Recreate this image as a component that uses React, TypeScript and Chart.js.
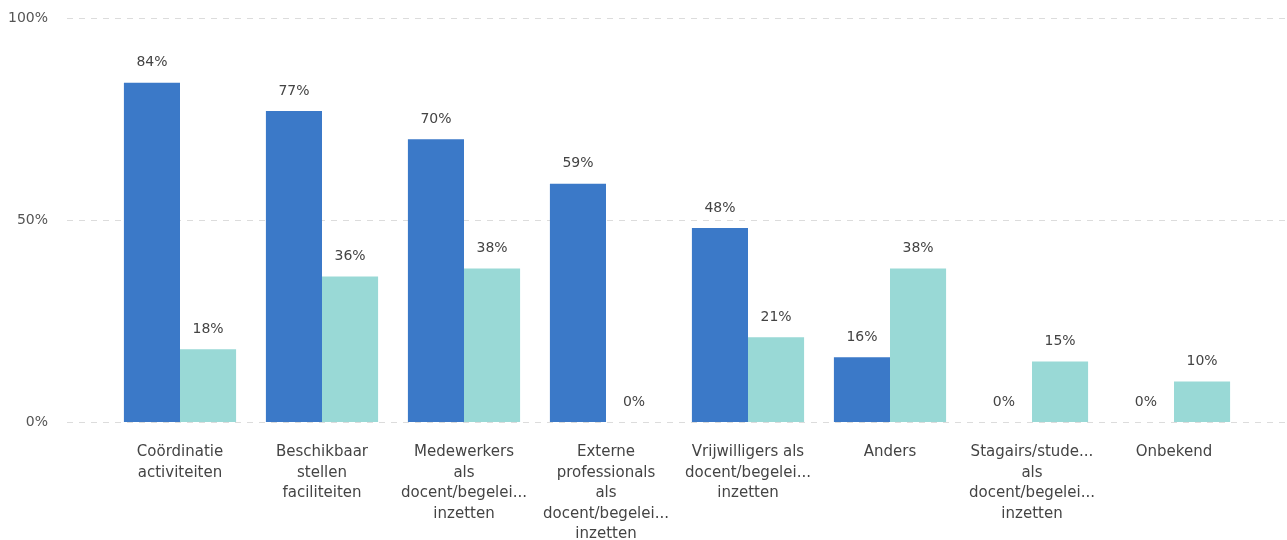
import React, { useEffect, useRef } from "react";
import { Chart, registerables } from "chart.js";

Chart.register(...registerables);

const categories: string[][] = [
  ["Coördinatie", "activiteiten"],
  ["Beschikbaar", "stellen", "faciliteiten"],
  ["Medewerkers", "als", "docent/begelei...", "inzetten"],
  ["Externe", "professionals", "als", "docent/begelei...", "inzetten"],
  ["Vrijwilligers als", "docent/begelei...", "inzetten"],
  ["Anders"],
  ["Stagairs/stude...", "als", "docent/begelei...", "inzetten"],
  ["Onbekend"],
];
const seriesA: number[] = [84, 77, 70, 59, 48, 16, 0, 0];
const seriesB: number[] = [18, 36, 38, 0, 21, 38, 15, 10];
const yTicks: number[] = [0, 50, 100];

const FONT = "'DejaVu Sans', sans-serif";
const DARK = "#3B79C8";
const LIGHT = "#99D9D6";

const gridPlugin = {
  id: "fullGrid",
  beforeDatasetsDraw(chart: any) {
    const { ctx } = chart;
    const y = chart.scales.y;
    ctx.save();
    ctx.strokeStyle = "#DCDCDC";
    ctx.lineWidth = 1;
    ctx.setLineDash([6, 6]);
    yTicks.forEach((t) => {
      const py = Math.round(y.getPixelForValue(t)) + 0.5;
      ctx.beginPath();
      ctx.moveTo(67, py);
      ctx.lineTo(chart.width, py);
      ctx.stroke();
    });
    ctx.setLineDash([]);
    ctx.font = `14px ${FONT}`;
    ctx.fillStyle = "#555555";
    ctx.textAlign = "right";
    ctx.textBaseline = "middle";
    yTicks.forEach((t) => {
      ctx.fillText(`${t}%`, 48, y.getPixelForValue(t));
    });
    ctx.restore();
  },
};

const labelPlugin = {
  id: "valueLabels",
  afterDatasetsDraw(chart: any) {
    const { ctx } = chart;
    ctx.save();
    ctx.font = `14px ${FONT}`;
    ctx.fillStyle = "#444444";
    ctx.textAlign = "center";
    ctx.textBaseline = "middle";
    chart.data.datasets.forEach((ds: any, i: number) => {
      const meta = chart.getDatasetMeta(i);
      meta.data.forEach((el: any, j: number) => {
        ctx.fillText(`${ds.data[j]}%`, el.x, el.y - 20);
      });
    });
    ctx.restore();
  },
};

export default function App() {
  const ref = useRef<HTMLCanvasElement | null>(null);
  useEffect(() => {
    if (!ref.current) return;
    const chart = new Chart(ref.current, {
      type: "bar",
      data: {
        labels: categories,
        datasets: [
          { data: seriesA, backgroundColor: DARK, categoryPercentage: 0.79, barPercentage: 1 },
          { data: seriesB, backgroundColor: LIGHT, categoryPercentage: 0.79, barPercentage: 1 },
        ],
      },
      options: {
        animation: false,
        responsive: false,
        maintainAspectRatio: false,
        layout: { padding: { top: 18, right: 42, left: 0, bottom: 0 } },
        plugins: { legend: { display: false }, tooltip: { enabled: false } },
        scales: {
          x: {
            grid: { display: false, drawTicks: false },
            border: { display: false },
            ticks: {
              padding: 20,
              font: { family: FONT, size: 15, lineHeight: 1.37 },
              color: "#444444",
              maxRotation: 0,
              autoSkip: false,
            },
            afterFit: (s: any) => {
              s.height = 118;
            },
          },
          y: {
            min: 0,
            max: 100,
            afterBuildTicks: (s: any) => {
              s.ticks = yTicks.map((v) => ({ value: v }));
            },
            grid: { display: false, drawTicks: false },
            border: { display: false },
            ticks: { display: false },
            afterFit: (s: any) => {
              s.width = 109;
            },
          },
        },
      },
      plugins: [gridPlugin, labelPlugin],
    });
    return () => chart.destroy();
  }, []);
  return (
    <div style={{ position: "absolute", left: 0, top: 0, width: 1287, height: 540, background: "#fff" }}>
      <canvas ref={ref} width={1287} height={540} style={{ width: 1287, height: 540 }} />
    </div>
  );
}
